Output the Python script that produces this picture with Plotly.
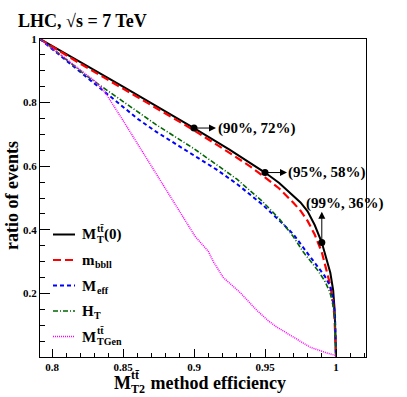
import plotly.graph_objects as go

SERIF = "Liberation Serif"

# ---- data ----
eff_mt0 = [0.7915, 0.80, 0.82, 0.85, 0.875, 0.90, 0.925, 0.94, 0.95, 0.96, 0.97,
           0.975, 0.98, 0.985, 0.99, 0.993, 0.996, 0.998, 0.999, 0.9995, 1.0]
ratio_mt0 = [1.0, 0.979, 0.927, 0.85, 0.786, 0.72, 0.652, 0.61, 0.58, 0.547, 0.508,
             0.486, 0.458, 0.415, 0.36, 0.315, 0.265, 0.21, 0.15, 0.08, 0.0]

eff_mbbll = [0.7915, 0.80, 0.82, 0.85, 0.875, 0.90, 0.925, 0.94, 0.95, 0.96, 0.97,
             0.975, 0.98, 0.985, 0.99, 0.993, 0.996, 0.998, 0.999, 0.9995, 1.0]
ratio_mbbll = [1.0, 0.977, 0.922, 0.844, 0.779, 0.713, 0.642, 0.598, 0.565, 0.53, 0.485,
               0.46, 0.428, 0.385, 0.33, 0.28, 0.225, 0.17, 0.12, 0.06, 0.0]

eff_meff = [0.7915, 0.7995, 0.8206, 0.8488, 0.8606, 0.8735, 0.90, 0.916, 0.93, 0.948,
            0.96, 0.97, 0.9805, 0.9864, 0.992, 0.9958, 0.998, 0.9993, 1.0]
ratio_meff = [1.0, 0.971, 0.893, 0.79, 0.748, 0.708, 0.634, 0.589, 0.545, 0.48,
              0.43, 0.386, 0.323, 0.29, 0.255, 0.224, 0.18, 0.13, 0.0]

eff_ht = [0.7915, 0.80, 0.824, 0.851, 0.8735, 0.90, 0.916, 0.93, 0.948, 0.96,
          0.97, 0.977, 0.9864, 0.992, 0.9958, 0.998, 0.9993, 1.0]
ratio_ht = [1.0, 0.972, 0.885, 0.80, 0.73, 0.655, 0.605, 0.56, 0.49, 0.435,
            0.378, 0.33, 0.277, 0.24, 0.203, 0.16, 0.11, 0.0]

eff_tgen = [0.7915, 0.80, 0.815, 0.83, 0.837, 0.85, 0.865, 0.876, 0.89, 0.9007,
            0.91, 0.9136, 0.9206, 0.9324, 0.944, 0.952, 0.958, 0.97, 0.9817,
            0.9934, 0.9995, 1.0]
ratio_tgen = [1.0, 0.972, 0.92, 0.868, 0.835, 0.744, 0.636, 0.558, 0.455, 0.38,
              0.333, 0.30, 0.25, 0.203, 0.148, 0.115, 0.095, 0.062, 0.031,
              0.013, 0.005, 0.0]

mark_eff = [0.90, 0.95, 0.99]
mark_ratio = [0.72, 0.58, 0.36]
mark_text = ["(90%, 72%)", "(95%, 58%)", "(99%, 36%)"]

x_tickvals = [0.8, 0.85, 0.9, 0.95, 1.0]
x_ticktext = ["0.8", "0.85", "0.9", "0.95", "1"]
y_tickvals = [0.2, 0.4, 0.6, 0.8, 1.0]
y_ticktext = ["0.2", "0.4", "0.6", "0.8", "1"]

# ---- plot area in pixels ----
W_FIG, H_FIG = 407, 397
PL, PR, PT, PB = 40, 366, 39, 357


def px_x(px):
    return (px - PL) / (PR - PL)


def px_y(py):
    return (PB - py) / (PB - PT)


# Times-bold glyph widths (em)
CW = {"M": .943, "m": .833, "H": .778, "T": .667, "t": .333, "b": .556, "l": .278,
      "e": .444, "f": .333, "G": .778, "n": .556, "(": .333, "0": .5, ")": .333,
      "2": .5, " ": .25, "\u0304": 0.0}


def tw(s, size):
    return sum(CW.get(ch, 0.5) for ch in s) * size


def txt(x, y, s, size, anchor="left"):
    return dict(xref="paper", yref="paper", x=px_x(x), y=px_y(y), text=s,
                showarrow=False, xanchor=anchor, yanchor="middle", borderpad=0,
                font=dict(family=SERIF, size=size, color="black", weight="bold"))


def script_label(anns, x, y, base, sup, sub, tail, size, ssize):
    anns.append(txt(x, y, base, size))
    xs = x + tw(base, size) + 0.5
    if sup:
        anns.append(txt(xs, y - 0.42 * size, sup, ssize))
    if sub:
        anns.append(txt(xs, y + 0.32 * size, sub, ssize))
    if tail:
        anns.append(txt(xs + max(tw(sup, ssize), tw(sub, ssize)) + 1, y, tail, size))


fig = go.Figure()

curves = [
    (eff_mt0, ratio_mt0, dict(color="black", width=2)),
    (eff_mbbll, ratio_mbbll, dict(color="#ff0000", width=2.2, dash="8px,4px")),
    (eff_meff, ratio_meff, dict(color="#0000ff", width=2, dash="4px,3px")),
    (eff_ht, ratio_ht, dict(color="#006600", width=1.6, dash="5px,2px,1px,2px")),
    (eff_tgen, ratio_tgen, dict(color="#ff00ff", width=1.5, dash="1px,1px")),
]
for xs, ys, ln in curves:
    fig.add_trace(go.Scatter(x=xs, y=ys, mode="lines", line=ln,
                             showlegend=False, hoverinfo="skip"))

fig.add_trace(go.Scatter(x=mark_eff, y=mark_ratio, mode="markers",
                         marker=dict(color="black", size=7),
                         showlegend=False, hoverinfo="skip"))

anns = []

# arrows from the working points to their labels
arrow_off = [(0.0155, 0.0), (0.0155, 0.0), (0.0, 0.097)]
for (mx, my), (dx, dy) in zip(zip(mark_eff, mark_ratio), arrow_off):
    anns.append(dict(xref="x", yref="y", axref="x", ayref="y",
                     x=mx + dx, y=my + dy, ax=mx, ay=my, text="",
                     showarrow=True, arrowhead=2, arrowsize=1.4,
                     arrowwidth=1, arrowcolor="black"))

label_pos = [(0.0162, 0.0, "left"), (0.0155, 0.0, "left"), (0.016, 0.1235, "center")]
for mx, my, t, (dx, dy, anc) in zip(mark_eff, mark_ratio, mark_text, label_pos):
    anns.append(dict(xref="x", yref="y", x=mx + dx, y=my + dy, text=t,
                     showarrow=False, xanchor=anc, yanchor="middle", borderpad=0,
                     font=dict(family=SERIF, size=15, color="black", weight="bold")))

# title
anns.append(txt(17, 20.5, "LHC, \u221as = 7 TeV", 18))

# y axis title
anns.append(dict(xref="paper", yref="paper", x=px_x(12), y=px_y(196),
                 text="ratio of events", textangle=-90, showarrow=False,
                 xanchor="center", yanchor="middle",
                 font=dict(family=SERIF, size=18, color="black", weight="bold")))

# x axis title: M_T2^{tt̄} method efficiency
xt_total = tw("M", 18) + tw("T2", 12) + 1.5 + tw(" method efficiency", 18)
script_label(anns, 203 - xt_total / 2, 383, "M", "tt\u0304", "T2",
             " method efficiency", 18, 12)

# hand-made legend
legend_rows = [
    (234.5, dict(color="black", width=2), ("M", "tt\u0304", "T", "(0)")),
    (260, dict(color="#ff0000", width=2.2, dash="8px,4px"), ("m", "", "bbll", "")),
    (285.5, dict(color="#0000ff", width=2, dash="4px,3px"), ("M", "", "eff", "")),
    (311, dict(color="#006600", width=1.6, dash="5px,2px,1px,2px"), ("H", "", "T", "")),
    (336.5, dict(color="#ff00ff", width=1.5, dash="1px,1px"), ("M", "tt\u0304", "TGen", "")),
]
shapes = []
for ly, ln, (base, sup, sub, tail) in legend_rows:
    shapes.append(dict(type="line", xref="paper", yref="paper",
                       x0=px_x(53), x1=px_x(75), y0=px_y(ly), y1=px_y(ly), line=ln))
    script_label(anns, 81, ly, base, sup, sub, tail, 15, 10)

fig.update_layout(
    width=W_FIG, height=H_FIG,
    margin=dict(l=PL, r=W_FIG - PR, t=PT, b=H_FIG - PB),
    plot_bgcolor="white", paper_bgcolor="white",
    annotations=anns, shapes=shapes,
    showlegend=False,
)

fig.update_xaxes(range=[0.8 - 12 / 1420, 1.0 + 30 / 1420],
                 tickmode="array", tickvals=x_tickvals, ticktext=x_ticktext,
                 ticks="inside", ticklen=8, tickwidth=1, tickcolor="black",
                 minor=dict(tickmode="linear", tick0=0.8, dtick=0.01,
                            ticks="inside", ticklen=4, tickcolor="black"),
                 showgrid=False, zeroline=False, automargin=False,
                 showline=True, linecolor="black", linewidth=1, mirror=True,
                 tickfont=dict(family=SERIF, size=11, color="black", weight="bold"))

fig.update_yaxes(range=[0, 1],
                 tickmode="array", tickvals=y_tickvals, ticktext=y_ticktext,
                 ticks="inside", ticklen=10, tickwidth=1, tickcolor="black",
                 minor=dict(tickmode="linear", tick0=0, dtick=0.05,
                            ticks="inside", ticklen=5, tickcolor="black"),
                 showgrid=False, zeroline=False, automargin=False,
                 showline=True, linecolor="black", linewidth=1, mirror=True,
                 tickfont=dict(family=SERIF, size=11, color="black", weight="bold"))

# the page body has a default 8px margin; drop it so the figure sits at 0,0
fig.write_html("out.html", config={"displayModeBar": False},
               post_script="document.body.style.margin='0';")
